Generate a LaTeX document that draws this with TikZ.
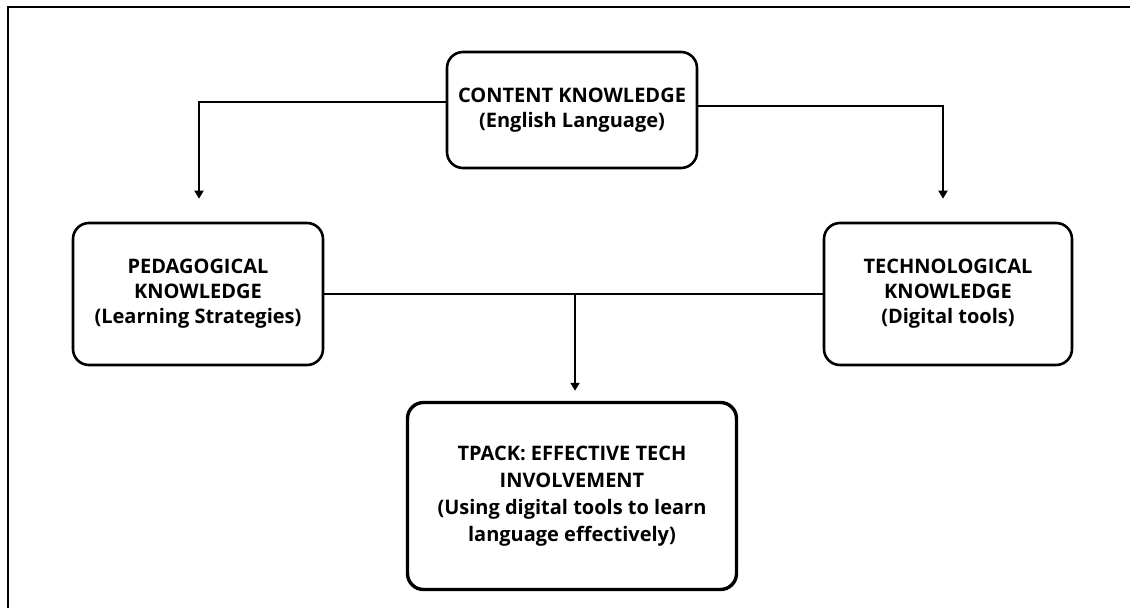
\documentclass[tikz,border=0pt]{standalone}
\usepackage{fontspec}
\setmainfont{Open Sans}
\usetikzlibrary{arrows.meta}
\begin{document}
\begin{tikzpicture}[x=1pt,y=-1pt]
      \tikzstyle{point} = [coordinate]
      \tikzstyle{box} = [rectangle, rounded corners=16pt, draw, line width=2.6pt, align=center, inner sep=0pt, font=\fontsize{20}{25}\selectfont\bfseries]
      \tikzstyle{conn} = [line width=1.8pt, -{Triangle[width=9pt,length=8pt]}]
      \useasboundingbox (0,0) rectangle (1130,608);
      % frame
      \draw [line width=2.6pt] (8,608)--(8,7)--(1130,7);
      % boxes
      \node (content) [box, minimum width=250pt, minimum height=116pt] at (572,110) {CONTENT KNOWLEDGE\\(English Language)};
      \node (ped) [box, minimum width=250pt, minimum height=142pt] at (198,294) {PEDAGOGICAL\\KNOWLEDGE\\(Learning Strategies)};
      \node (tech) [box, minimum width=248pt, minimum height=142pt] at (948,294) {TECHNOLOGICAL\\KNOWLEDGE\\(Digital tools)};
      \node (tpack) [box, line width=3.4pt, minimum width=329pt, minimum height=187pt, font=\fontsize{20}{27}\selectfont\bfseries] at (572,496) {TPACK: EFFECTIVE TECH\\INVOLVEMENT\\(Using digital tools to learn\\language effectively)};
      \node (mid) [point] at (575,295) {};
      % connectors
      \draw [conn, shorten >=23pt] ([yshift=8pt]content.west) -| ([xshift=1pt]ped.north);
      \draw [conn, shorten >=23pt] ([yshift=4pt]content.east) -| ([xshift=-5pt]tech.north);
      \draw [line width=1.8pt] (ped.east)--(tech.west);
      \draw [conn, shorten >=10pt] (mid)--(mid |- tpack.north);
\end{tikzpicture}
\end{document}
